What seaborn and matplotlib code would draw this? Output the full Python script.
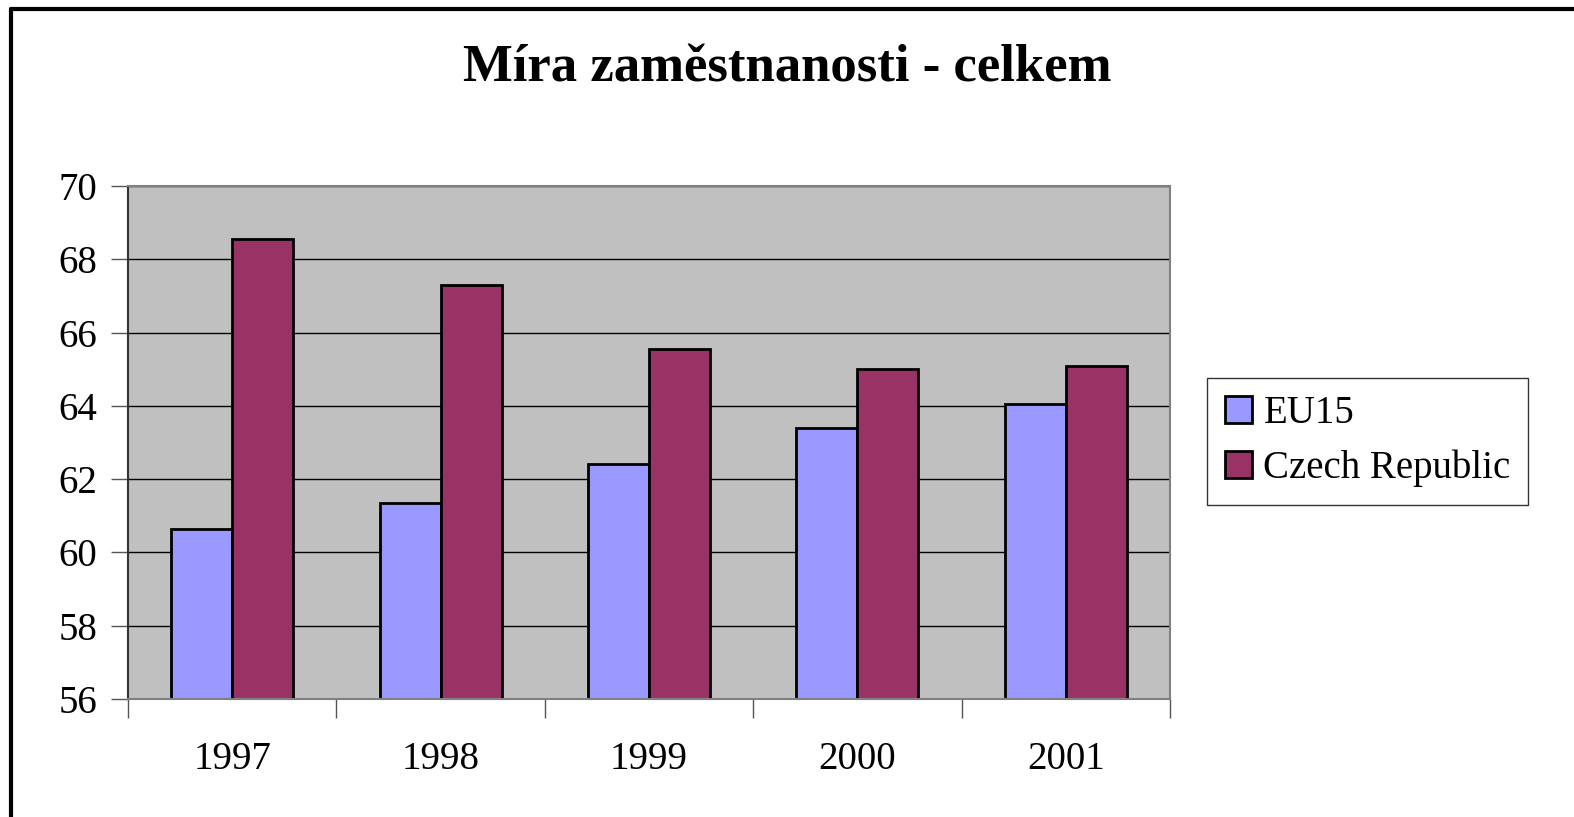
import matplotlib
matplotlib.use("Agg")
import matplotlib.pyplot as plt
from matplotlib.lines import Line2D
from matplotlib.patches import Patch
import seaborn as sns
import pandas as pd

years = ["1997", "1998", "1999", "2000", "2001"]
eu15 = [60.65, 61.35, 62.4, 63.4, 64.05]
czech = [68.55, 67.3, 65.55, 65.0, 65.1]
series_names = ["EU15", "Czech Republic"]
colors = ["#9999FF", "#993366"]
title = "Míra zaměstnanosti - celkem"

df = pd.DataFrame({
    "year": years * 2,
    "value": eu15 + czech,
    "series": [series_names[0]] * len(years) + [series_names[1]] * len(years),
})

sns.set_theme(style="white")
plt.rcParams["font.family"] = ["Liberation Serif", "DejaVu Serif"]
plt.rcParams["text.color"] = "black"
plt.rcParams["xtick.labelcolor"] = "black"
plt.rcParams["ytick.labelcolor"] = "black"

fig = plt.figure(figsize=(15.74, 8.17), dpi=100)
ax = fig.add_axes([128 / 1574, 1 - 699 / 817, (1170 - 128) / 1574, (699 - 186) / 817])
ax.set_facecolor("#C0C0C0")

sns.barplot(data=df, x="year", y="value", hue="series", palette=colors,
            width=0.585, gap=0, edgecolor="black", linewidth=2.0,
            ax=ax, legend=False, saturation=1)

ax.set_ylim(56, 70)
ax.set_xlim(-0.5, len(years) - 0.5)
ax.set_yticks(range(56, 71, 2))
ax.set_xlabel("")
ax.set_ylabel("")
ax.yaxis.grid(True, color="black", linewidth=1.0)
ax.set_axisbelow(True)

ax.tick_params(axis="y", which="major", direction="out", length=12, width=1,
               color="#555555", labelsize=28, pad=10, left=True)
ax.tick_params(axis="x", which="major", length=0, labelsize=28, pad=30)
ax.set_xticks([i - 0.5 for i in range(len(years) + 1)], minor=True)
ax.tick_params(axis="x", which="minor", direction="out", length=14, width=1,
               color="#555555", bottom=True)

for s in ["top", "right", "bottom"]:
    ax.spines[s].set_color("#808080")
    ax.spines[s].set_linewidth(1.5)
ax.spines["left"].set_color("#333333")
ax.spines["left"].set_linewidth(1.5)

fig.text(0.5, 1 - 68 / 817, title, ha="center", va="center",
         fontsize=38, fontweight="bold", color="black")

handles = [Patch(facecolor=c, edgecolor="black", linewidth=2) for c in colors]
leg = fig.legend(handles, series_names, loc="center left",
                 bbox_to_anchor=(1207 / 1574, 1 - 441 / 817),
                 fontsize=28, frameon=True, fancybox=False,
                 handlelength=0.7, handleheight=0.7, handletextpad=0.3,
                 labelspacing=0.45, borderpad=0.45, borderaxespad=0)
leg.get_frame().set_edgecolor("black")
leg.get_frame().set_linewidth(1)

fig.add_artist(Line2D([11 / 1574, 11 / 1574], [0, 1 - 9 / 817], color="black",
                      linewidth=3, transform=fig.transFigure))
fig.add_artist(Line2D([11 / 1574, 1], [1 - 9 / 817, 1 - 9 / 817], color="black",
                      linewidth=3, transform=fig.transFigure))

fig.savefig("out.png", dpi=100, facecolor="white")
